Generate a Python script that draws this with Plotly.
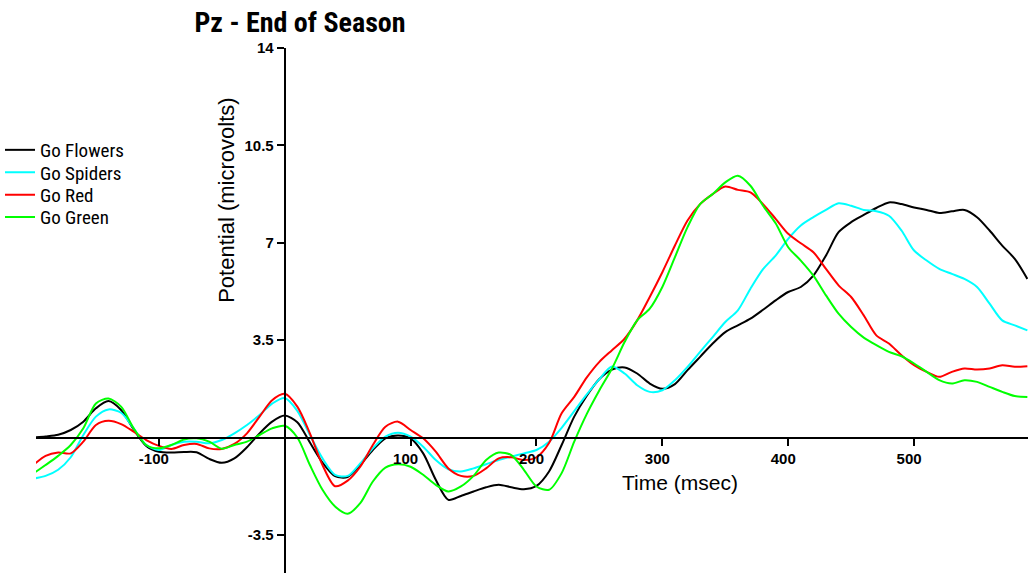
import plotly.graph_objects as go

time_ms = list(range(-200, 600, 10))

go_flowers = [0.0, 0.04, 0.1, 0.27, 0.57, 1.05, 1.31, 0.99, 0.29, -0.30,
              -0.51, -0.54, -0.52, -0.53, -0.77, -0.91, -0.75, -0.35, 0.15, 0.57,
              0.79, 0.55, -0.18, -0.90, -1.39, -1.42, -0.99, -0.45, -0.03, 0.07,
              -0.03, -0.57, -1.52, -2.24, -2.10, -1.94, -1.79, -1.70, -1.79, -1.86,
              -1.74, -1.22, -0.27, 0.75, 1.50, 2.10, 2.44, 2.52, 2.30, 1.94,
              1.75, 1.92, 2.42, 2.90, 3.38, 3.79, 4.03, 4.27, 4.59, 4.93,
              5.23, 5.41, 5.82, 6.54, 7.38, 7.74, 8.00, 8.25, 8.45, 8.39,
              8.27, 8.18, 8.07, 8.13, 8.18, 7.92, 7.44, 6.90, 6.42, 5.70]

go_spiders = [-1.48, -1.38, -1.16, -0.71, 0.09, 0.75, 1.01, 0.89, 0.33, -0.27,
              -0.45, -0.27, -0.15, -0.15, -0.21, -0.09, 0.15, 0.45, 0.81, 1.22,
              1.42, 0.96, 0.09, -0.75, -1.34, -1.38, -0.93, -0.39, 0.03, 0.17,
              0.03, -0.33, -0.81, -1.14, -1.22, -1.11, -0.96, -0.81, -0.69, -0.57,
              -0.45, -0.15, 0.35, 0.95, 1.55, 2.10, 2.55, 2.30, 1.88, 1.64,
              1.70, 2.06, 2.54, 3.08, 3.61, 4.15, 4.57, 5.35, 6.05, 6.54,
              7.14, 7.62, 7.92, 8.18, 8.42, 8.33, 8.18, 8.13, 7.97, 7.44,
              6.72, 6.36, 6.06, 5.88, 5.70, 5.41, 4.81, 4.21, 4.03, 3.85]

go_red = [-1.00, -0.66, -0.54, -0.57, -0.15, 0.45, 0.60, 0.48, 0.21, -0.09,
          -0.30, -0.41, -0.27, -0.23, -0.39, -0.41, -0.23, 0.15, 0.75, 1.34,
          1.57, 1.11, 0.15, -0.99, -1.75, -1.55, -1.05, -0.27, 0.39, 0.57,
          0.27, -0.03, -0.51, -1.11, -1.38, -1.38, -1.11, -0.75, -0.71, -0.81,
          -0.71, -0.20, 0.87, 1.46, 2.16, 2.72, 3.14, 3.55, 4.21, 5.05,
          5.94, 6.90, 7.80, 8.39, 8.75, 9.02, 8.90, 8.81, 8.39, 7.86,
          7.32, 6.98, 6.66, 6.06, 5.47, 5.05, 4.39, 3.67, 3.38, 2.96,
          2.60, 2.36, 2.18, 2.36, 2.48, 2.44, 2.48, 2.60, 2.54, 2.56]

go_green = [-1.30, -0.99, -0.66, -0.27, 0.33, 1.22, 1.40, 1.11, 0.33, -0.27,
            -0.39, -0.27, -0.07, -0.03, -0.15, -0.40, -0.27, -0.15, 0.09, 0.33,
            0.42, 0.00, -0.99, -1.88, -2.48, -2.74, -2.36, -1.58, -1.08, -0.96,
            -1.05, -1.34, -1.70, -1.94, -1.76, -1.38, -0.81, -0.54, -0.63, -1.16,
            -1.76, -1.88, -1.28, -0.15, 0.85, 1.70, 2.48, 3.43, 4.21, 4.63,
            5.41, 6.48, 7.56, 8.39, 8.75, 9.17, 9.41, 9.05, 8.33, 7.70,
            6.84, 6.36, 5.82, 5.11, 4.45, 3.97, 3.59, 3.32, 3.08, 2.92,
            2.66, 2.36, 2.06, 1.94, 2.06, 2.00, 1.82, 1.64, 1.49, 1.46]

series_names = ["Go Flowers", "Go Spiders", "Go Red", "Go Green"]
series_colors = ["#000000", "#00FFFF", "#FF0000", "#00FF00"]
series_values = [go_flowers, go_spiders, go_red, go_green]

x_tick_vals = [-100, 100, 200, 300, 400, 500]
x_tick_text = ["-100", "100", "200", "300", "400", "500"]
y_tick_vals = [-3.5, 3.5, 7, 10.5, 14]
y_tick_text = ["-3.5", "3.5", "7", "10.5", "14"]

X_RANGE = [-197.6, 590.5]
Y_RANGE = [-4.87, 14]

NARROW = "Roboto Condensed, DejaVu Sans Condensed, Liberation Sans Narrow, Arial Narrow, Liberation Sans, sans-serif"
SANS = "Liberation Sans, Arial, sans-serif"

W, H = 1028, 573
ML, MT = 35, 48
PW, PH = W - ML, H - MT

fig = go.Figure()
legend_ids = ["legend", "legend2", "legend3", "legend4"]
legend_rows_px = [150, 172.4, 194.8, 217.2]
for name, color, vals, lid in zip(series_names, series_colors, series_values, legend_ids):
    fig.add_trace(go.Scatter(
        x=time_ms, y=vals, mode="lines", name=name, legend=lid,
        line=dict(color=color, width=2, shape="spline", smoothing=0.8),
    ))

x_zero_pos = (0 - Y_RANGE[0]) / (Y_RANGE[1] - Y_RANGE[0])
y_zero_pos = (0 - X_RANGE[0]) / (X_RANGE[1] - X_RANGE[0])

legend_layout = {}
for lid, row in zip(legend_ids, legend_rows_px):
    legend_layout[lid] = dict(
        x=(-1 - ML) / PW, y=(H - row) / PH, xanchor="left", yanchor="middle",
        bgcolor="rgba(0,0,0,0)", borderwidth=0,
        font=dict(family=NARROW, size=19, color="black"),
        itemwidth=30, tracegroupgap=0)

fig.update_layout(
    width=W, height=H,
    margin=dict(l=ML, r=0, t=MT, b=0),
    paper_bgcolor="white", plot_bgcolor="white",
    xaxis=dict(range=X_RANGE, anchor="free", position=x_zero_pos,
               showgrid=False, zeroline=False, showline=True,
               linecolor="black", linewidth=2,
               ticks="outside", ticklen=7, tickwidth=1.5, tickcolor="black",
               tickvals=x_tick_vals, ticktext=x_tick_text,
               ticklabelshift=-5,
               tickfont=dict(family=SANS, size=15, color="black", weight="bold")),
    yaxis=dict(range=Y_RANGE, anchor="free", position=y_zero_pos,
               showgrid=False, zeroline=False, showline=True,
               linecolor="black", linewidth=2,
               ticks="outside", ticklen=7, tickwidth=1.5, tickcolor="black",
               tickvals=y_tick_vals, ticktext=y_tick_text,
               tickfont=dict(family=SANS, size=15, color="black", weight="bold")),
    title=dict(text="<b>Pz - End of Season</b>", xref="container", yref="container",
               x=300 / W, y=1 - 22 / H, xanchor="center", yanchor="middle",
               font=dict(family=NARROW, size=28, color="black")),
    showlegend=True,
    **legend_layout,
)

fig.add_annotation(text="Potential (microvolts)", xref="paper", yref="paper",
                   x=(225 - ML) / PW, y=(H - 200) / PH, textangle=-90,
                   showarrow=False, xanchor="center", yanchor="middle",
                   font=dict(family=SANS, size=22, color="black"))
fig.add_annotation(text="Time (msec)", xref="paper", yref="paper",
                   x=(680 - ML) / PW, y=(H - 482) / PH,
                   showarrow=False, xanchor="center", yanchor="middle",
                   font=dict(family=SANS, size=21, color="black"))

fig.write_html("out.html")
